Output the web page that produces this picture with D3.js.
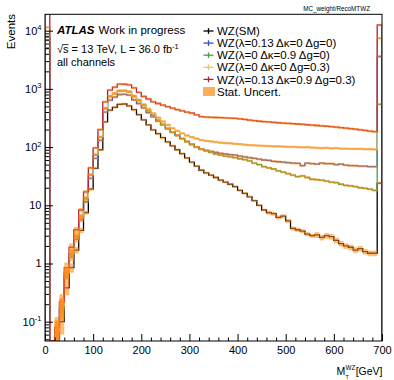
<!DOCTYPE html>
<html>
<head>
<meta charset="utf-8">
<script src="https://cdn.jsdelivr.net/npm/d3@7"></script>
<style>
  body { margin: 0; background: #fff; }
  svg { font-family: "Liberation Sans", Arial, Helvetica, sans-serif; }
</style>
</head>
<body>
<svg id="chart" width="394" height="380"></svg>
<script>
// histogram: 70 bins of 10 GeV from 0 to 700
const binWidth = 10;
const nBins = 70;

const smVals = [5000, 0, 0.04, 0.1, 0.38, 0.85, 1.7, 3.7, 7.5, 19,
  43, 90, 270, 430, 480, 540, 550, 510, 440, 360,
  293, 240, 197, 170, 145, 123, 105, 90, 77, 65,
  55, 47, 40, 36, 33, 30, 27, 25, 23, 21,
  18, 16, 14, 12, 10, 8.3, 7.5, 7.2, 6.2, 6.5,
  5.4, 4.0, 3.8, 3.6, 3.2, 3.0, 3.1, 2.8, 3.0, 2.9,
  2.5, 2.2, 2.0, 1.9, 1.7, 1.8, 1.6, 1.5, 1.5, 24];

const lambdaVals = [7900, 0, 0.06, 0.16, 0.6, 1.3, 2.6, 5.6, 11.5, 29,
  64, 130, 400, 640, 720, 800, 807, 780, 650, 560,
  470, 390, 330, 280, 240, 205, 180, 160, 140, 125,
  112, 100, 92, 88, 84, 81, 78, 76, 74, 73,
  70, 68, 66, 64, 62, 60, 59, 57, 56, 55,
  54, 53, 52.6, 48, 53, 52, 51, 53, 52, 52,
  50, 51, 49, 48, 48, 47, 47, 46, 46, 3600];

const kappaVals = [6900, 0, 0.07, 0.18, 0.68, 1.45, 2.9, 6.3, 13, 33,
  73, 148, 460, 740, 830, 920, 930, 890, 740, 630,
  520, 420, 350, 290, 245, 210, 180, 158, 140, 123,
  110, 100, 92, 86, 81, 76, 73, 70, 68, 66,
  63, 61, 58, 53, 50, 46, 44, 42, 39, 37,
  35, 33, 31, 32, 30, 28, 27.5, 27, 26, 25,
  24.5, 23, 22, 21.5, 21, 20, 19.5, 19, 18, 543];

const gVals = [11400, 0, 0.07, 0.19, 0.7, 1.5, 3.0, 6.5, 13.5, 34,
  75, 150, 470, 750, 840, 930, 935, 900, 760, 650,
  540, 450, 380, 320, 275, 240, 210, 190, 172, 158,
  148, 140, 132, 128, 125, 122, 119, 117, 116, 114,
  112, 110, 108, 107, 106, 105, 104, 103, 103, 102,
  101, 101, 100, 99, 100, 98, 97, 96, 97, 95,
  96, 94, 94, 93, 93, 93, 92, 92, 91, 7400];

const allVals = [30000, 0, 0.08, 0.22, 0.85, 1.9, 3.8, 8.3, 17, 44,
  97, 200, 600, 950, 1070, 1210, 1200, 1170, 1040, 870,
  740, 670, 600, 560, 525, 494, 465, 440, 420, 400,
  385, 358, 333, 328, 325, 322, 320, 317, 314, 312,
  305, 298, 290, 285, 278, 273, 270, 265, 262, 258,
  255, 252, 249, 246, 242, 238, 235, 232, 228, 224,
  220, 215, 212, 208, 203, 198, 193, 188, 184, 12500];

// relative statistical uncertainty per bin
const relErrSM = [0.02, 0, 0.6, 0.4, 0.25, 0.18, 0.13, 0.1, 0.08, 0.06,
  0.04, 0.03, 0.02, 0.02, 0.02, 0.02, 0.02, 0.02, 0.02, 0.02,
  0.02, 0.02, 0.02, 0.02, 0.02, 0.02, 0.03, 0.03, 0.03, 0.03,
  0.03, 0.03, 0.03, 0.03, 0.03, 0.03, 0.05, 0.05, 0.05, 0.05,
  0.05, 0.05, 0.05, 0.05, 0.05, 0.05, 0.08, 0.08, 0.08, 0.08,
  0.08, 0.08, 0.08, 0.08, 0.08, 0.08, 0.11, 0.11, 0.11, 0.11,
  0.11, 0.11, 0.11, 0.11, 0.11, 0.11, 0.11, 0.11, 0.11, 0.04];

const relErrAC = [0.02, 0, 0.5, 0.35, 0.22, 0.16, 0.12, 0.09, 0.07, 0.05,
  0.04, 0.03, 0.02, 0.02, 0.02, 0.02, 0.02, 0.02, 0.02, 0.02,
  0.02, 0.02, 0.02, 0.02, 0.02, 0.02, 0.02, 0.02, 0.02, 0.02,
  0.02, 0.03, 0.03, 0.03, 0.03, 0.03, 0.03, 0.03, 0.03, 0.03,
  0.03, 0.03, 0.03, 0.03, 0.03, 0.03, 0.03, 0.03, 0.03, 0.03,
  0.03, 0.03, 0.03, 0.03, 0.03, 0.03, 0.03, 0.03, 0.03, 0.03,
  0.03, 0.03, 0.03, 0.03, 0.03, 0.03, 0.03, 0.03, 0.03, 0.02];

const series = [
  { label: 'WZ(SM)', vals: smVals, err: relErrSM, color: '#000000' },
  { label: 'WZ(λ=0.13 Δκ=0 Δg=0)', vals: lambdaVals, err: relErrAC, color: '#2a4fd0' },
  { label: 'WZ(λ=0 Δκ=0.9 Δg=0)', vals: kappaVals, err: relErrAC, color: '#3ea63e' },
  { label: 'WZ(λ=0 Δκ=0 Δg=0.3)', vals: gVals, err: relErrAC, color: '#dccb6c' },
  { label: 'WZ(λ=0.13 Δκ=0.9 Δg=0.3)', vals: allVals, err: relErrAC, color: '#b01c40' }
];

const xTicksMajor = [0, 100, 200, 300, 400, 500, 600, 700];
const yTicksMajor = [0.1, 1, 10, 100, 1000, 10000];
const yTickLabels = [['10', '-1'], ['1', ''], ['10', ''], ['10', '2'], ['10', '3'], ['10', '4']];

const bandColor = '#ff8c1a';

const frameL = 45, frameR = 382, frameT = 14.3, frameB = 341;
const yMin = 0.0466, yMax = 19100;

const svg = d3.select('#chart');
const x = d3.scaleLinear().domain([0, 700]).range([frameL, frameR]);
const y = d3.scaleLog().domain([yMin, yMax]).range([frameB, frameT]);

svg.append('defs').append('clipPath').attr('id', 'frame')
  .append('rect')
  .attr('x', frameL).attr('y', frameT)
  .attr('width', frameR - frameL).attr('height', frameB - frameT);

const plot = svg.append('g').attr('clip-path', 'url(#frame)');

const clampV = v => Math.min(Math.max(v, yMin), yMax * 2);
const line = d3.line().x(d => x(d[0])).y(d => y(d[1]));

function stepPoints(vals) {
  const pts = [[0, yMin]];
  vals.forEach(function(v, i) {
    pts.push([i * binWidth, clampV(v)], [(i + 1) * binWidth, clampV(v)]);
  });
  pts.push([nBins * binWidth, yMin]);
  return pts;
}

// lines first
series.forEach(function(s) {
  plot.append('path')
    .attr('d', line(stepPoints(s.vals)))
    .attr('fill', 'none')
    .attr('stroke', s.color)
    .attr('stroke-width', 1.3);
});

// stat uncertainty bands on top
series.forEach(function(s) {
  plot.append('g')
    .selectAll('rect')
    .data(s.vals.map((v, i) => ({ i: i, v: v, e: s.err[i] })).filter(d => d.v > 0))
    .enter()
    .append('rect')
    .attr('x', d => x(d.i * binWidth))
    .attr('width', d => x((d.i + 1) * binWidth) - x(d.i * binWidth))
    .attr('y', function(d) {
      const y0 = y(clampV(d.v * (1 + d.e))), y1 = y(clampV(d.v * (1 - d.e)));
      return Math.min(y0, (y0 + y1) / 2 - 1.2);
    })
    .attr('height', function(d) {
      const y0 = y(clampV(d.v * (1 + d.e))), y1 = y(clampV(d.v * (1 - d.e)));
      return Math.max(y1 - y0, 2.4);
    })
    .attr('fill', bandColor)
    .attr('fill-opacity', 0.6);
});

// axes
const xMinor = d3.range(20, 700, 20).filter(v => v % 100 !== 0);
svg.append('g')
  .attr('transform', 'translate(0,' + frameB + ')')
  .call(d3.axisBottom(x).tickValues(xMinor).tickSize(-3.5).tickFormat(''))
  .call(g => g.select('.domain').remove());

const xAxis = svg.append('g')
  .attr('transform', 'translate(0,' + frameB + ')')
  .call(d3.axisBottom(x).tickValues(xTicksMajor).tickSize(-7).tickPadding(5).tickFormat(d3.format('d')))
  .call(g => g.select('.domain').remove());
xAxis.selectAll('text').attr('font-size', 11).attr('font-family', null).attr('fill', '#000');

const yMinor = [];
[-2, -1, 0, 1, 2, 3, 4].forEach(function(p) {
  [2, 3, 4, 5, 6, 7, 8, 9].forEach(function(k) {
    const v = k * Math.pow(10, p);
    if (v > yMin && v < yMax) yMinor.push(v);
  });
});
svg.append('g')
  .attr('transform', 'translate(' + frameL + ',0)')
  .call(d3.axisLeft(y).tickValues(yMinor).tickSize(-4).tickFormat(''))
  .call(g => g.select('.domain').remove());
svg.append('g')
  .attr('transform', 'translate(' + frameL + ',0)')
  .call(d3.axisLeft(y).tickValues(yTicksMajor).tickSize(-8).tickFormat(''))
  .call(g => g.select('.domain').remove());

svg.append('g').selectAll('text')
  .data(yTicksMajor)
  .enter()
  .append('text')
  .attr('x', 41.5)
  .attr('y', d => y(d))
  .attr('dy', '0.36em')
  .attr('text-anchor', 'end')
  .attr('font-size', 11)
  .each(function(d, i) {
    const t = d3.select(this);
    t.append('tspan').text(yTickLabels[i][0]);
    if (yTickLabels[i][1]) {
      t.append('tspan').attr('dy', -4.5).attr('font-size', 7.5).text(yTickLabels[i][1]);
    }
  });

// frame
svg.append('rect')
  .attr('x', frameL).attr('y', frameT)
  .attr('width', frameR - frameL).attr('height', frameB - frameT)
  .attr('fill', 'none').attr('stroke', '#000').attr('stroke-width', 1);

// axis titles
svg.append('text')
  .attr('transform', 'translate(15,14) rotate(-90)')
  .attr('text-anchor', 'end')
  .attr('font-size', 11.5)
  .text('Events');

// M_T^WZ [GeV], sub- and superscript stacked
svg.append('text')
  .attr('x', 336.5).attr('y', 375)
  .attr('font-size', 10.5)
  .text('M');
svg.append('text')
  .attr('x', 345.5).attr('y', 369.5)
  .attr('font-size', 6.3)
  .text('WZ');
svg.append('text')
  .attr('x', 345.5).attr('y', 378.5)
  .attr('font-size', 5.5)
  .text('T');
svg.append('text')
  .attr('x', 382.5).attr('y', 375)
  .attr('text-anchor', 'end')
  .attr('font-size', 10.5)
  .text('[GeV]');

// ATLAS label
const atl = svg.append('text').attr('x', 57).attr('y', 34.3).attr('font-size', 11.5);
atl.append('tspan').attr('font-weight', 'bold').attr('font-style', 'italic').text('ATLAS');
atl.append('tspan').attr('dx', 4).text('Work in progress');

const lum = svg.append('text').attr('x', 57).attr('y', 53).attr('font-size', 11);
lum.append('tspan').text('√s = 13 TeV, L = 36.0 fb');
lum.append('tspan').attr('dy', -4.5).attr('font-size', 7.5).text('-1');
svg.append('line')
  .attr('x1', 62.5).attr('x2', 68.5).attr('y1', 44.6).attr('y2', 44.6)
  .attr('stroke', '#000').attr('stroke-width', 0.8);

svg.append('text').attr('x', 57).attr('y', 65.5).attr('font-size', 11).text('all channels');

svg.append('text')
  .attr('x', 370).attr('y', 10.5)
  .attr('text-anchor', 'end')
  .attr('font-size', 6.3)
  .text('MC_weight/RecoMTWZ');

// legend
const legend = svg.append('g');
series.forEach(function(s, i) {
  const cy = 31 + i * 12.1;
  legend.append('line')
    .attr('x1', 203.5).attr('x2', 213.5).attr('y1', cy).attr('y2', cy)
    .attr('stroke', s.color).attr('stroke-width', 1.3);
  legend.append('line')
    .attr('x1', 208.5).attr('x2', 208.5).attr('y1', cy - 2.8).attr('y2', cy + 2.8)
    .attr('stroke', s.color).attr('stroke-width', 1.3);
  legend.append('text')
    .attr('x', 217).attr('y', cy).attr('dy', '0.36em')
    .attr('font-size', 11.5)
    .text(s.label);
});
const statY = 31 + 5 * 12.1;
legend.append('rect')
  .attr('x', 203).attr('y', statY - 4.5)
  .attr('width', 12).attr('height', 9)
  .attr('fill', bandColor).attr('fill-opacity', 0.7);
legend.append('text')
  .attr('x', 217).attr('y', statY).attr('dy', '0.36em')
  .attr('font-size', 11.5)
  .text('Stat. Uncert.');
</script>
</body>
</html>
